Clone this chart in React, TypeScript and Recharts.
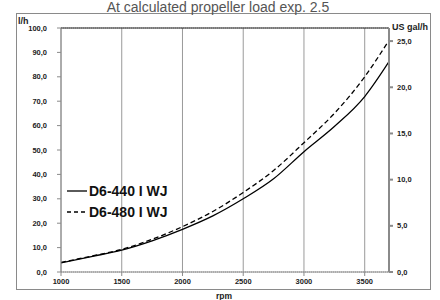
import React from 'react';
import { LineChart, Line, XAxis, YAxis, CartesianGrid, ReferenceLine } from 'recharts';

// values
const rpm = [1000, 1250, 1500, 1750, 2000, 2250, 2500, 2750, 3000, 3250, 3500, 3700];
const d6440 = [3.7, 6.3, 9.0, 12.8, 17.5, 23.0, 30.0, 38.2, 49.3, 59.6, 71.9, 86.2];
const d6480 = [3.9, 6.5, 9.3, 13.4, 18.6, 24.8, 32.6, 41.6, 53.0, 65.0, 80.0, 95.0];
const seriesNames = ['D6-440 I WJ', 'D6-480 I WJ'];
const rpmTicks = [1000, 1500, 2000, 2500, 3000, 3500];
const lhTicks = [0, 10, 20, 30, 40, 50, 60, 70, 80, 90, 100];
const galTicks = [0, 5, 10, 15, 20, 25];

const GAL_PER_L = 3.785411784;
const FONT = '"Liberation Sans", Arial, sans-serif';

const data = rpm.map((r, i) => ({ rpm: r, a: d6440[i], b: d6480[i] }));

const fmt = (v: number) => v.toFixed(1).replace('.', ',');
const tickStyle = { fill: '#222', fontSize: 7.5, fontWeight: 700, fontFamily: FONT };

const App: React.FC = () => {
  return (
    <div style={{ position: 'absolute', left: 0, top: 0, width: 440, height: 300, background: '#fff', overflow: 'hidden' }}>
      <LineChart width={440} height={300} data={data} margin={{ top: 28, right: 6, bottom: 8, left: 16 }}>
        <CartesianGrid horizontal={true} vertical={false} stroke="#9a9a9a" strokeDasharray="1 1" />
        <CartesianGrid horizontal={false} vertical={true} stroke="#9a9a9a" />
        <XAxis
          dataKey="rpm"
          type="number"
          domain={[1000, 3700]}
          ticks={rpmTicks}
          height={20}
          tickSize={4}
          tickMargin={3}
          stroke="#8a8a8a"
          tick={tickStyle}
          allowDataOverflow
        />
        <YAxis
          yAxisId="l"
          domain={[0, 100]}
          ticks={lhTicks}
          width={45}
          tickSize={4}
          tickMargin={10}
          tickFormatter={fmt}
          stroke="#8a8a8a"
          tick={tickStyle}
        />
        <YAxis
          yAxisId="g"
          orientation="right"
          domain={[0, 100 / GAL_PER_L]}
          ticks={galTicks}
          width={45}
          tickSize={4}
          tickMargin={4}
          tickFormatter={fmt}
          stroke="#8a8a8a"
          strokeWidth={2}
          tick={tickStyle}
          allowDataOverflow
        />
        <ReferenceLine yAxisId="l" y={100} stroke="#222" />
        <Line yAxisId="l" type="monotone" dataKey="a" name={seriesNames[0]} stroke="#000" strokeWidth={1.3} dot={false} isAnimationActive={false} />
        <Line yAxisId="l" type="monotone" dataKey="b" name={seriesNames[1]} stroke="#000" strokeWidth={1.3} strokeDasharray="5 3" dot={false} isAnimationActive={false} />
      </LineChart>
      <svg width={440} height={300} style={{ position: 'absolute', left: 0, top: 0, pointerEvents: 'none' }}>
        <rect x={16.5} y={13.5} width={414} height={276} fill="none" stroke="#8a8a8a" />
        <text x={218} y={11.5} textAnchor="middle" fontSize={14} fill="#555" fontFamily={FONT}>
          At calculated propeller load exp. 2.5
        </text>
        <text x={18} y={24} fontSize={9} fontWeight={700} fill="#222" fontFamily={FONT}>l/h</text>
        <text x={392} y={30} fontSize={9} fontWeight={700} fill="#222" fontFamily={FONT}>US gal/h</text>
        <text x={224} y={298.5} textAnchor="middle" fontSize={8.5} fontWeight={700} fill="#222" fontFamily={FONT}>rpm</text>
        {seriesNames.map((name, i) => (
          <g key={name}>
            <line x1={67} x2={87} y1={191 + i * 21} y2={191 + i * 21} stroke="#000" strokeWidth={1.3} strokeDasharray={i === 1 ? '4 3' : undefined} />
            <text x={89} y={196 + i * 21} fontSize={14} fontWeight={700} fill="#111" fontFamily={FONT}>{name}</text>
          </g>
        ))}
      </svg>
    </div>
  );
};

export default App;
